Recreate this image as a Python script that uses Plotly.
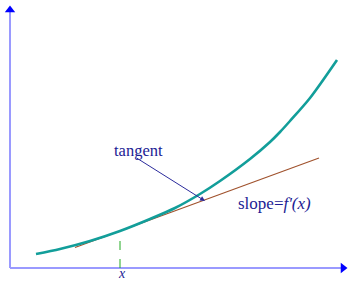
import plotly.graph_objects as go

# Curve f(x) (origin at axes corner)
curve_x = [26, 50, 80, 110, 140, 165, 190, 210, 240, 260, 270, 280, 300, 327]
curve_y = [14, 19, 27, 37, 49, 60, 74, 87, 109, 126, 136, 147, 170, 208]

# Tangent line endpoints
tangent_x = [65, 309]
tangent_y = [20.5, 110]

# Point of tangency
point_x = 110
point_y = 37

# Axes extents
x_axis_end = 335
y_axis_end = 260

fig = go.Figure()

# axes lines
fig.add_trace(go.Scatter(x=[0, x_axis_end - 4], y=[0, 0], mode="lines",
                         line=dict(color="#9a9aff", width=2), hoverinfo="skip"))
fig.add_trace(go.Scatter(x=[0, 0], y=[0, y_axis_end - 4], mode="lines",
                         line=dict(color="#9a9aff", width=2), hoverinfo="skip"))
# arrowheads
fig.add_trace(go.Scatter(x=[x_axis_end - 2], y=[0], mode="markers", cliponaxis=False,
                         marker=dict(symbol="triangle-right", size=9, color="#0000ff"),
                         hoverinfo="skip"))
fig.add_trace(go.Scatter(x=[0], y=[y_axis_end - 2], mode="markers", cliponaxis=False,
                         marker=dict(symbol="triangle-up", size=9, color="#0000ff"),
                         hoverinfo="skip"))

# dashed drop line
fig.add_trace(go.Scatter(x=[point_x, point_x], y=[0, point_y], mode="lines",
                         line=dict(color="#22aa22", width=1, dash="dash"), hoverinfo="skip"))

# tangent line
fig.add_trace(go.Scatter(x=tangent_x, y=tangent_y, mode="lines",
                         line=dict(color="#a0522d", width=1.2), hoverinfo="skip"))

# curve
fig.add_trace(go.Scatter(x=curve_x, y=curve_y, mode="lines",
                         line=dict(color="#129e9a", width=2.6, shape="spline", smoothing=0.8),
                         hoverinfo="skip"))

font_serif = "Liberation Serif, Times New Roman, serif"
text_color = "#1c1c94"

fig.add_annotation(x=128, y=118, text="tangent", showarrow=False,
                   font=dict(family=font_serif, size=16.5, color=text_color))
fig.add_annotation(x=195, y=67, ax=125, ay=111, axref="x", ayref="y",
                   text="", showarrow=True, arrowhead=2, arrowsize=1,
                   arrowwidth=1, arrowcolor="#2b2b9c")
fig.add_annotation(x=264, y=65, text="slope=<i>f'(x)</i>", showarrow=False,
                   font=dict(family=font_serif, size=17, color=text_color))
fig.add_annotation(x=112, y=-5, text="<i>x</i>", showarrow=False, borderpad=0,
                   font=dict(family=font_serif, size=14, color=text_color))

fig.update_layout(
    width=348, height=281,
    margin=dict(l=0, r=0, t=0, b=0),
    paper_bgcolor="white", plot_bgcolor="white",
    showlegend=False,
    xaxis=dict(range=[-10, 338], visible=False, fixedrange=True),
    yaxis=dict(range=[-13, 268], visible=False, fixedrange=True),
)

fig.write_html("out.html",
               config={"displayModeBar": False, "responsive": False},
               post_script="document.body.style.margin='0';document.body.style.overflow='hidden';")
